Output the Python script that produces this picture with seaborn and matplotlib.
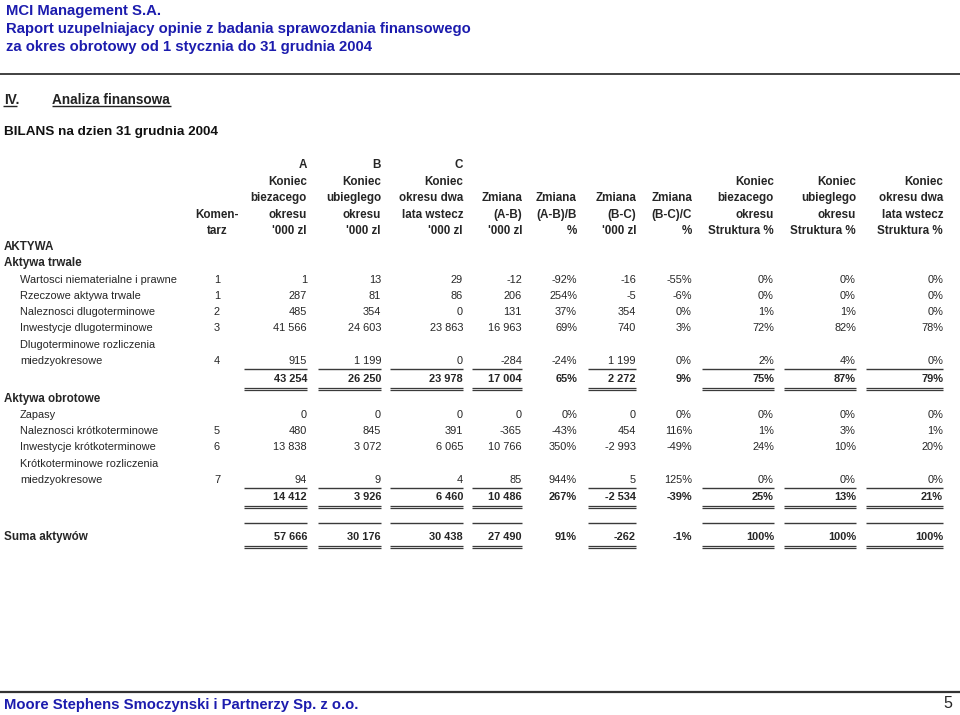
import matplotlib
matplotlib.use("Agg")
import matplotlib.pyplot as plt
import seaborn as sns

sns.set_theme(style="white")
plt.rcParams['font.family'] = ['Liberation Sans', 'DejaVu Sans']

# ---------------- data ----------------
title_lines = ["MCI Management S.A.",
               "Raport uzupelniajacy opinie z badania sprawozdania finansowego",
               "za okres obrotowy od 1 stycznia do 31 grudnia 2004"]
section_no = "IV."
section_title = "Analiza finansowa"
table_title = "BILANS na dzien 31 grudnia 2004"
footer_text = "Moore Stephens Smoczynski i Partnerzy Sp. z o.o."
page_no = "5"

col_keys = ["A", "B", "C", "AB", "ABp", "BC", "BCp", "S1", "S2", "S3"]
col_headers = {
    "A":   ["A", "Koniec", "biezacego", "okresu", "'000 zl"],
    "B":   ["B", "Koniec", "ubieglego", "okresu", "'000 zl"],
    "C":   ["C", "Koniec", "okresu dwa", "lata wstecz", "'000 zl"],
    "AB":  ["", "", "Zmiana", "(A-B)", "'000 zl"],
    "ABp": ["", "", "Zmiana", "(A-B)/B", "%"],
    "BC":  ["", "", "Zmiana", "(B-C)", "'000 zl"],
    "BCp": ["", "", "Zmiana", "(B-C)/C", "%"],
    "S1":  ["", "Koniec", "biezacego", "okresu", "Struktura %"],
    "S2":  ["", "Koniec", "ubieglego", "okresu", "Struktura %"],
    "S3":  ["", "Koniec", "okresu dwa", "lata wstecz", "Struktura %"],
}
kom_header = ["Komen-", "tarz"]
pct_cols = ["ABp", "BCp", "S1", "S2", "S3"]
line_cols = ["A", "B", "C", "AB", "BC", "S1", "S2", "S3"]

# long-term assets
lt_labels = ["Wartosci niematerialne i prawne", "Rzeczowe aktywa trwale",
             "Naleznosci dlugoterminowe", "Inwestycje dlugoterminowe",
             "Dlugoterminowe rozliczenia\nmiedzyokresowe"]
lt_kom = ["1", "1", "2", "3", "4"]
lt_A = [1, 287, 485, 41566, 915]
lt_B = [13, 81, 354, 24603, 1199]
lt_C = [29, 86, 0, 23863, 0]
lt_AB = [-12, 206, 131, 16963, -284]
lt_ABp = [-92, 254, 37, 69, -24]
lt_BC = [-16, -5, 354, 740, 1199]
lt_BCp = [-55, -6, 0, 3, 0]
lt_S1 = [0, 0, 1, 72, 2]
lt_S2 = [0, 0, 1, 82, 4]
lt_S3 = [0, 0, 0, 78, 0]
lt_total = [43254, 26250, 23978, 17004, 65, 2272, 9, 75, 87, 79]

# current assets
ca_labels = ["Zapasy", "Naleznosci krótkoterminowe", "Inwestycje krótkoterminowe",
             "Krótkoterminowe rozliczenia\nmiedzyokresowe"]
ca_kom = ["", "5", "6", "7"]
ca_A = [0, 480, 13838, 94]
ca_B = [0, 845, 3072, 9]
ca_C = [0, 391, 6065, 4]
ca_AB = [0, -365, 10766, 85]
ca_ABp = [0, -43, 350, 944]
ca_BC = [0, 454, -2993, 5]
ca_BCp = [0, 116, -49, 125]
ca_S1 = [0, 1, 24, 0]
ca_S2 = [0, 3, 10, 0]
ca_S3 = [0, 1, 20, 0]
ca_total = [14412, 3926, 6460, 10486, 267, -2534, -39, 25, 13, 21]

sum_label = "Suma aktywów"
sum_total = [57666, 30176, 30438, 27490, 91, -262, -1, 100, 100, 100]

# ---------------- layout ----------------
col_right = {"A": 307, "B": 381, "C": 463, "AB": 522, "ABp": 577, "BC": 636,
             "BCp": 692, "S1": 774, "S2": 856, "S3": 943}
col_left = {"A": 244, "B": 318, "C": 390, "AB": 472, "BC": 588,
            "S1": 702, "S2": 784, "S3": 866}
kom_x = 217
blue = "#1c1cae"
fs = 7.9
fsh = 8.4

fig = plt.figure(figsize=(9.6, 7.15), dpi=100)
ax = fig.add_axes([0, 0, 1, 1])
ax.set_xlim(0, 960)
ax.set_ylim(715, 0)
ax.axis("off")


def fmt(v, key):
    if key in pct_cols:
        return f"{v}%"
    return f"{v:,}".replace(",", " ")


# titles
for y, t in zip([11.5, 29.5, 47.5], title_lines):
    ax.text(6, y, t, color=blue, fontsize=10.7, fontweight="bold", va="center", ha="left")
ax.hlines(74, 0, 960, color="#333333", lw=1.3)
ax.text(4, 100, section_no, fontsize=9.8, fontweight="bold", va="center", color="#222222")
ax.text(52, 100, section_title, fontsize=9.8, fontweight="bold", va="center", color="#222222")
ax.hlines(106, 3, 17, color="#222222", lw=1.0)
ax.hlines(106, 52, 171, color="#222222", lw=1.0)
ax.text(4, 132, table_title, fontsize=9.7, fontweight="bold", va="center", color="#111111")

# column headers
hdr_y = [165, 182, 198, 215, 231]
for k in col_keys:
    for y, t in zip(hdr_y, col_headers[k]):
        if t:
            ax.text(col_right[k], y, t, fontsize=fsh, fontweight="bold", ha="right", va="center")
for y, t in zip(hdr_y[3:], kom_header):
    ax.text(kom_x, y, t, fontsize=fsh, fontweight="bold", ha="center", va="center")

ax.text(4, 247, "AKTYWA", fontsize=fsh, fontweight="bold", va="center")
ax.text(4, 263, "Aktywa trwale", fontsize=fsh, fontweight="bold", va="center")


def draw_section(ys, labels, kom, cols):
    for i, y in enumerate(ys):
        lab = labels[i]
        if "\n" in lab:
            l1, l2 = lab.split("\n")
            ax.text(20, y - 16.3, l1, fontsize=fs, va="center")
            ax.text(20, y, l2, fontsize=fs, va="center")
        else:
            ax.text(20, y, lab, fontsize=fs, va="center")
        if kom[i]:
            ax.text(kom_x, y, kom[i], fontsize=fs, ha="center", va="center")
        for k, vals in zip(col_keys, cols):
            ax.text(col_right[k], y, fmt(vals[i], k), fontsize=fs, ha="right", va="center")


def single_line(y):
    for k in line_cols:
        ax.hlines(y, col_left[k], col_right[k], color="#3a3a3a", lw=1.0)


def total_row(y, totals):
    for k, v in zip(col_keys, totals):
        ax.text(col_right[k], y, fmt(v, k), fontsize=fs, fontweight="bold", ha="right", va="center")
    for k in line_cols:
        ax.hlines(y + 8.5, col_left[k], col_right[k], color="#3a3a3a", lw=0.9)
        ax.hlines(y + 11.1, col_left[k], col_right[k], color="#3a3a3a", lw=0.9)


lt_y = [280, 296, 312, 328, 361]
draw_section(lt_y, lt_labels, lt_kom,
             [lt_A, lt_B, lt_C, lt_AB, lt_ABp, lt_BC, lt_BCp, lt_S1, lt_S2, lt_S3])
single_line(369)
total_row(379, lt_total)

ax.text(4, 399, "Aktywa obrotowe", fontsize=fsh, fontweight="bold", va="center")
ca_y = [415, 431, 447, 480]
draw_section(ca_y, ca_labels, ca_kom,
             [ca_A, ca_B, ca_C, ca_AB, ca_ABp, ca_BC, ca_BCp, ca_S1, ca_S2, ca_S3])
single_line(488)
total_row(497, ca_total)

single_line(523)
ax.text(4, 537, sum_label, fontsize=fsh, fontweight="bold", va="center")
total_row(537, sum_total)

# footer
ax.hlines(692, 0, 960, color="#333333", lw=1.6)
ax.text(4, 705, footer_text, color=blue, fontsize=10.7, fontweight="bold", va="center",
        family=["Liberation Sans Narrow", "Liberation Sans", "DejaVu Sans"])
ax.text(948, 703, page_no, fontsize=11.5, va="center", ha="center",
        family=["Liberation Sans Narrow", "Liberation Sans", "DejaVu Sans"])

fig.savefig("out.png", dpi=100, facecolor="white")
